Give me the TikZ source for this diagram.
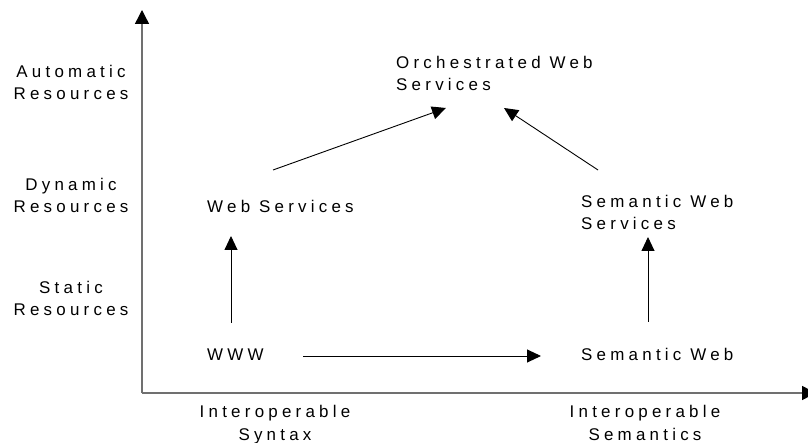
\documentclass[tikz,border=0pt]{standalone}
\usepackage{fontspec}
\setmainfont{Liberation Sans}
\newfontfamily\spaced[LetterSpace=25]{Liberation Sans}
\usetikzlibrary{arrows.meta}
\definecolor{axisgray}{HTML}{707070}
\tikzset{
  lbl/.style={inner sep=0pt, font=\spaced\fontsize{17}{23}\selectfont, text=black},
  lblc/.style={lbl, align=center},
  lbll/.style={lbl, align=left},
  arr/.style={draw=black, line width=0.9bp, -{Triangle[length=14bp,width=13bp]}},
  axis/.style={draw=axisgray, line width=1.4bp, -{Triangle[length=14bp,width=14bp,fill=black,color=black]}}
}
\begin{document}
\begin{tikzpicture}[x=1bp, y=-1bp]
\useasboundingbox (0,0) rectangle (808,443);

% axes
\coordinate (o) at (142,393);
\coordinate (ytop) at (142,10);
\coordinate (xend) at (816,393);
\draw[axis] (o) -- (ytop);
\draw[axis] (o) -- (xend);

% vertical axis labels (base anchor = baseline of the last line)
\node[lblc, anchor=base] (auto) at (71,100) {Automatic\\Resources};
\node[lblc, anchor=base] (dyn) at (71,213) {Dynamic\\Resources};
\node[lblc, anchor=base] (stat) at (71,316) {Static\\Resources};

% horizontal axis labels
\node[lblc, anchor=base] (syn) at (275,440) {Interoperable\\Syntax};
\node[lblc, anchor=base] (sem) at (645,440) {Interoperable\\Semantics};

% stages
\node[lbll, anchor=base west] (orch) at (396,91) {Orchestrated Web\\Services};
\node[lbl, anchor=base west] (websvc) at (207,213) {Web Services};
\node[lbll, anchor=base west] (semwebsvc) at (581,230) {Semantic Web\\Services};
\node[lbl, anchor=base west] (www) at (207,361) {WWW};
\node[lbl, anchor=base west] (semweb) at (581,361) {Semantic Web};

% transitions
\draw[arr] ([shift={(96,-5)}]www.base west) -- ([shift={(-40,-5)}]semweb.base west);
\draw[arr] ([shift={(24,-38)}]www.base west) -- ([shift={(24,23)}]websvc.base west);
\draw[arr] ([shift={(67,-39)}]semweb.base west) -- ([shift={(67,7)}]semwebsvc.base west);
\draw[arr] ([shift={(66,-43)}]websvc.base west) -- ([shift={(50,17)}]orch.base west);
\draw[arr] ([shift={(17,-60)}]semwebsvc.base west) -- ([shift={(108,17)}]orch.base west);
\end{tikzpicture}
\end{document}
